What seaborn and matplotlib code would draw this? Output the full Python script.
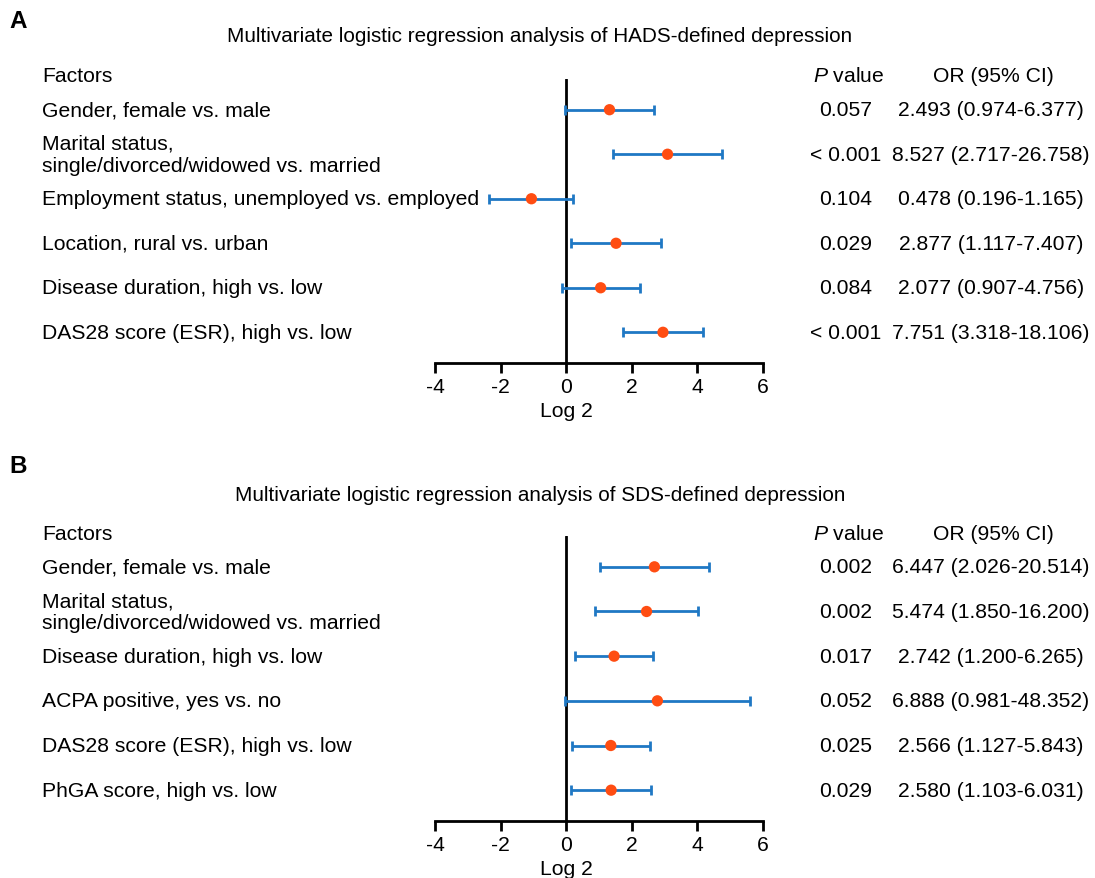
import matplotlib
matplotlib.use("Agg")
import matplotlib.pyplot as plt
import matplotlib.transforms as mtransforms
import seaborn as sns
import pandas as pd

# ---------------- data ----------------
hads_factors = [
    "Gender, female vs. male",
    "Marital status,\nsingle/divorced/widowed vs. married",
    "Employment status, unemployed vs. employed",
    "Location, rural vs. urban",
    "Disease duration, high vs. low",
    "DAS28 score (ESR), high vs. low",
]
hads_log2 = [1.32, 3.09, -1.06, 1.52, 1.05, 2.95]
hads_lo = [-0.04, 1.44, -2.35, 0.16, -0.14, 1.73]
hads_hi = [2.67, 4.74, 0.22, 2.89, 2.25, 4.18]
hads_p = ["0.057", "< 0.001", "0.104", "0.029", "0.084", "< 0.001"]
hads_or = ["2.493 (0.974-6.377)", "8.527 (2.717-26.758)", "0.478 (0.196-1.165)",
           "2.877 (1.117-7.407)", "2.077 (0.907-4.756)", "7.751 (3.318-18.106)"]

sds_factors = [
    "Gender, female vs. male",
    "Marital status,\nsingle/divorced/widowed vs. married",
    "Disease duration, high vs. low",
    "ACPA positive, yes vs. no",
    "DAS28 score (ESR), high vs. low",
    "PhGA score, high vs. low",
]
sds_log2 = [2.69, 2.45, 1.46, 2.78, 1.36, 1.37]
sds_lo = [1.02, 0.89, 0.26, -0.03, 0.17, 0.14]
sds_hi = [4.36, 4.02, 2.65, 5.60, 2.55, 2.59]
sds_p = ["0.002", "0.002", "0.017", "0.052", "0.025", "0.029"]
sds_or = ["6.447 (2.026-20.514)", "5.474 (1.850-16.200)", "2.742 (1.200-6.265)",
          "6.888 (0.981-48.352)", "2.566 (1.127-5.843)", "2.580 (1.103-6.031)"]

xticks = [-4, -2, 0, 2, 4, 6]

# ---------------- style ----------------
sns.set_theme(style="white")
plt.rcParams["font.family"] = ["Liberation Sans", "DejaVu Sans"]
plt.rcParams["mathtext.fontset"] = "custom"
plt.rcParams["mathtext.it"] = "Liberation Sans:italic"
plt.rcParams["mathtext.rm"] = "Liberation Sans"
plt.rcParams["text.color"] = "black"
plt.rcParams["xtick.color"] = "black"
plt.rcParams["xtick.labelcolor"] = "black"

W, H = 1095, 879
FS = 15.2
FS_TITLE = 14.9
BLUE = "#1f78c4"
ORANGE = "#ff4d12"

fig = plt.figure(figsize=(W / 100, H / 100), dpi=100)
fig.patch.set_facecolor("white")


def fx(px):
    return px / W


def fy(py):
    return 1 - py / H


def panel(letter, title, factors, est, lo, hi, pvals, ors, top, axis_y, letter_y, title_y, head_y):
    ax_left, ax_right = 435, 763
    ax = fig.add_axes([fx(ax_left), fy(axis_y), (ax_right - ax_left) / W, (axis_y - top) / H])
    df = pd.DataFrame({"factor": factors, "est": est, "lo": lo, "hi": hi})
    df["row"] = range(len(df))
    ax.errorbar(df["est"], df["row"],
                xerr=[df["est"] - df["lo"], df["hi"] - df["est"]],
                fmt="none", ecolor=BLUE, elinewidth=2.0, capsize=3.6, capthick=2.0, zorder=2,
                clip_on=False)
    sns.scatterplot(data=df, x="est", y="row", ax=ax, color=ORANGE, s=66,
                    edgecolor="none", zorder=3, legend=False, clip_on=False)
    ax.axvline(0, color="black", lw=2, zorder=1)
    ax.set_xlim(-4, 6)
    ax.set_ylim(len(df) - 1 + 0.69, -0.69)
    ax.set_xticks(xticks)
    ax.set_xticklabels([str(t) for t in xticks], fontsize=FS)
    ax.set_yticks([])
    ax.set_xlabel("")
    ax.set_ylabel("")
    for s in ["top", "right", "left"]:
        ax.spines[s].set_visible(False)
    ax.spines["bottom"].set_linewidth(2)
    ax.spines["bottom"].set_color("black")
    ax.tick_params(axis="x", direction="out", length=7, width=2, color="black", pad=3,
                   bottom=True)
    ax.patch.set_alpha(0)

    # texts
    fig.text(fx(9), fy(letter_y), letter, fontsize=17.5, fontweight="bold", ha="left", va="center")
    fig.text(fx(540), fy(title_y), title, fontsize=FS_TITLE, ha="center", va="center")
    fig.text(fx(42), fy(head_y), "Factors", fontsize=FS, ha="left", va="center")
    fig.text(fx(849), fy(head_y), r"$\it{P}$ value", fontsize=FS, ha="center", va="center")
    fig.text(fx(993), fy(head_y), "OR (95% CI)", fontsize=FS, ha="center", va="center")
    trans = mtransforms.blended_transform_factory(fig.transFigure, ax.transData)
    for i, (f, p, o) in enumerate(zip(factors, pvals, ors)):
        fig.text(fx(42), i, f, transform=trans, fontsize=FS, ha="left", va="center",
                 linespacing=1.17)
        fig.text(fx(846), i, p, transform=trans, fontsize=FS, ha="center", va="center")
        fig.text(fx(991), i, o, transform=trans, fontsize=FS, ha="center", va="center")
    fig.text(fx(566), fy(axis_y + 48), "Log 2", fontsize=FS, ha="center", va="center")
    return ax


panel("A", "Multivariate logistic regression analysis of HADS-defined depression",
      hads_factors, hads_log2, hads_lo, hads_hi, hads_p, hads_or,
      top=80, axis_y=364, letter_y=21, title_y=37, head_y=76)
panel("B", "Multivariate logistic regression analysis of SDS-defined depression",
      sds_factors, sds_log2, sds_lo, sds_hi, sds_p, sds_or,
      top=537, axis_y=822, letter_y=467, title_y=496, head_y=534)

fig.savefig("out.png", dpi=100, facecolor="white")
